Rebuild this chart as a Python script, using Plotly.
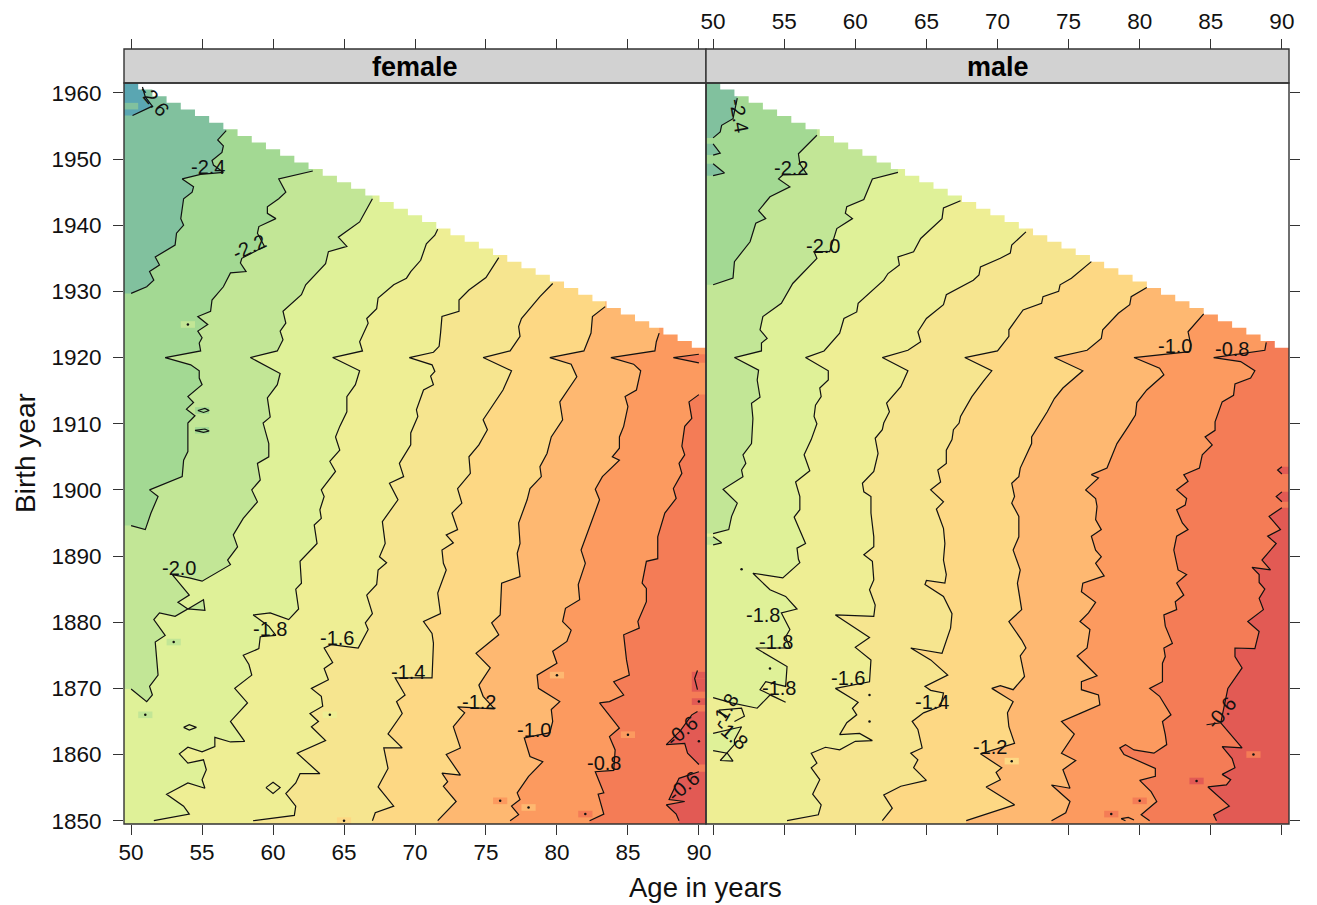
import plotly.graph_objects as go

ages_ticks = [50, 55, 60, 65, 70, 75, 80, 85, 90]
year_ticks = [1850, 1860, 1870, 1880, 1890, 1900, 1910, 1920, 1930, 1940, 1950, 1960]
panel_titles = ["female", "male"]
band_colors = ["#5AA6B2", "#81C19E", "#A3D993", "#C2E696", "#DFF198", "#EEEE94",
               "#F6E58F", "#FDD884", "#FEB871", "#FC9A5F", "#F47C56", "#E25A54"]
stair_ages = list(range(50, 91))
stair_last_birth_year = [1961, 1960, 1959, 1958, 1957, 1956, 1955, 1954, 1953, 1952, 1951, 1950,
                         1949, 1948, 1947, 1946, 1945, 1944, 1943, 1942, 1941, 1940, 1939, 1938,
                         1937, 1936, 1935, 1934, 1933, 1932, 1931, 1930, 1929, 1928, 1927, 1926,
                         1925, 1924, 1923, 1922, 1921]

# Contours: (age, birth year), top to bottom
f_m26 = [(50.8,1960.9),(51.0,1959.4),(51.5,1958),(50.1,1956.6)]
f_m24 = [(56.7,1954.3),(56.1,1952.9),(56.5,1952),(56.4,1951),(55.7,1949.8),(55.8,1949.1),(56.5,1948),(54.9,1947.7),(53.6,1947),(54.4,1945.8),(54.3,1945),(53.7,1944),(53.5,1941),(53.7,1940),(53.2,1938.8),(53.1,1937),(51.7,1935.2),(52,1934),(51.3,1933),(51.6,1931.7),(51.1,1930.7),(50,1929.7)]
f_m22 = [(62.8,1948.2),(60.4,1947),(60.9,1945),(60.4,1944),(59.6,1942.8),(59.6,1941.8),(60.2,1941),(59,1939.8),(58.9,1938.8),(59.4,1936.8),(57.8,1935),(57.7,1934.3),(58.1,1933),(57,1932.8),(56.5,1930.7),(55.7,1928.7),(55.6,1927),(54.7,1926.2),(55.4,1925),(54.7,1924),(55,1923),(54.8,1922.2),(54.9,1921),(52.4,1920),(54.2,1918.9),(54.8,1918),(54.8,1916.9),(55,1915.9),(54,1914.1),(54.4,1913.2),(53.9,1912.2),(54.5,1911.2),(54,1910.1),(54,1907.8),(54,1905.8),(53.7,1904.5),(53.6,1902),(51.3,1900),(51.9,1899),(51.4,1896.5),(51,1894),(50,1894.6)]
f_m20 = [(67,1944),(66.1,1940.5),(64.6,1938.2),(65.2,1936.8),(63.9,1936),(63.7,1934.2),(62.3,1931),(62,1929.5),(60.7,1927),(60.9,1925.2),(60.5,1924),(60.7,1922.7),(60.3,1921),(58.4,1920),(60.5,1917.6),(60.3,1915.9),(59.6,1913.9),(59.8,1911),(59.3,1910.1),(59.7,1907),(59.7,1905),(58.9,1904),(59.1,1901.5),(58.5,1900),(58.9,1898.2),(57.9,1895.7),(57.2,1893.2),(57.5,1891.4),(56.8,1889.4),(57,1888.7),(55,1886.2),(54.1,1886.7),(52.9,1887.2),(54.1,1884.1),(53.3,1883),(54,1882),(55.1,1883.4),(55.2,1881.8),(54,1882),(53.1,1880.9),(52,1881.4),(51.6,1880.4),(52.4,1878),(51.7,1877),(51.9,1872),(51.3,1870.3),(51.5,1869),(51.1,1868),(50,1869.9)]
f_m18 = [(71.6,1939.4),(71.4,1938.5),(70.8,1937.2),(70.4,1934.7),(69.7,1933),(69.4,1932),(68.5,1931),(67.4,1929),(67.3,1927.4),(66.6,1925.9),(66.7,1925.2),(66.1,1922.4),(66.3,1921),(64.2,1920),(66.1,1918),(65.8,1915.9),(65.2,1914.1),(65.2,1911.8),(64.7,1909.6),(64.4,1908),(64.7,1906),(64,1904.3),(64.4,1902.8),(63.4,1900),(63.6,1899),(63.3,1897),(63.4,1895.7),(62.9,1894.7),(63.1,1891.9),(61.9,1889.2),(62,1885.9),(61.6,1885),(61.8,1882),(61.1,1880.4),(59.8,1881.4),(58.6,1881.1),(59.7,1879.4),(60.2,1878),(59.1,1877.8),(59,1876),(57.9,1875),(58.3,1873.6),(58.5,1872),(57.3,1870),(58.2,1867.8),(57,1865),(58,1862),(57,1861.9),(55.9,1862.6),(55.9,1861.2),(55,1860.4),(54,1861.1),(53.4,1860.1),(54,1858.7),(55.1,1859.2),(55.3,1857.7),(55,1856.2),(55.2,1854.9),(54,1855.7),(52.5,1854),(53.7,1852.2),(54.1,1851),(51.6,1850)]
f_m16 = [(75.9,1935.1),(75,1932.1),(73.8,1930.2),(73.1,1928.7),(73.1,1927),(71.9,1926.2),(71.8,1923.7),(71.7,1921.7),(71.3,1920.8),(69.6,1920),(71.2,1918.9),(71.4,1917.9),(71.1,1917.2),(71.3,1915.9),(70.6,1915.1),(70.1,1912.1),(70.2,1911.1),(69.7,1908.6),(69.7,1906.8),(68.9,1904),(69.2,1902),(68.2,1901),(68.8,1898.5),(67.7,1895.2),(67.9,1891.9),(67.5,1889.9),(68,1889),(67.4,1887.9),(67.3,1885.7),(66.6,1884.1),(67,1881.3),(66.5,1879.9),(66.7,1878.9),(66,1876.1),(64.1,1876.6),(63.6,1876.1),(64.2,1873.9),(63.6,1873),(63.9,1871.3),(62.7,1870),(63.4,1868.8),(63.5,1867.3),(62.6,1866.2),(63.2,1865),(62.7,1864.2),(63.7,1862.1),(61.7,1860.2),(63.3,1857.1),(61.9,1857.1),(61.6,1855.7),(60.9,1854.1),(61.6,1852.2),(61.5,1850.8),(58.6,1850)]
f_m14 = [(79.7,1931.2),(78.8,1929.2),(77.5,1925.9),(77.3,1924.7),(77.4,1923.2),(76.7,1921),(74.8,1920),(76.8,1918),(76.2,1915.1),(75.4,1912.6),(74.8,1910.6),(75.1,1909.1),(74.5,1906.8),(73.8,1905),(73.9,1902.5),(73,1900.2),(73.3,1898),(72.6,1896.5),(73,1894),(72.2,1893.2),(72.7,1892),(71.9,1890.9),(72,1888.9),(72.2,1887.9),(71.6,1884.4),(71.8,1881.3),(70.6,1880.1),(71.2,1878.3),(71.3,1876.8),(71.2,1871.6),(68.6,1871.6),(69.3,1869),(68.7,1868),(69.1,1866.2),(68.1,1863.1),(69.1,1861),(67.8,1861),(68.1,1857.9),(67.4,1855.1),(68.5,1852.2),(67.2,1851.2),(67,1850)]
f_m12 = [(83.4,1927.7),(82.5,1926.2),(82.4,1923.7),(81.9,1921),(79.5,1920),(81,1919),(81.4,1917.1),(80.2,1913.3),(80.4,1910.6),(79.6,1908),(79.3,1905.5),(78.8,1903.5),(78.9,1902),(78.1,1900.2),(77.9,1898.5),(77.3,1895),(77.4,1891.9),(77.2,1890.4),(77.4,1886.9),(76.1,1885.9),(76,1881.1),(75.4,1879.9),(75.9,1878.1),(74.3,1875.3),(75.3,1873.1),(74.5,1870.5),(74.8,1868.8),(75.6,1866.9),(73,1867.2),(73.5,1866.3),(72.7,1864.2),(73.2,1861),(72.2,1860),(73.2,1856.9),(71.9,1857.2),(72.3,1855.9),(72,1855.2),(72.9,1852.9),(71.6,1850)]
f_m10 = [(87.2,1923.7),(87,1922.4),(86.9,1921),(83.8,1920),(85.4,1919),(85.9,1918),(85.6,1915.1),(84.8,1914.1),(85,1912.6),(84.7,1909.6),(84.4,1908),(84.4,1906.3),(83.9,1905),(84.4,1904.5),(83.2,1902),(82.7,1900.1),(83,1898.5),(81.7,1890.9),(82,1888.9),(81.5,1885.7),(81.6,1883.4),(80.6,1882.1),(80.4,1880.1),(81,1878.8),(80.7,1877.1),(79.7,1875.6),(80,1873.8),(78.6,1872),(78.7,1870),(80.2,1868),(79.6,1866.8),(79.7,1865),(79.5,1863.3),(77.7,1862.5),(78.1,1859.7),(79,1858.9),(78,1856.7),(77.2,1854.2),(77.4,1853.2),(76.8,1852.2),(77.3,1850.9),(76.7,1850)]
f_m08 = [(90,1914.4),(89.3,1913.3),(89.5,1910.8),(89,1909.6),(88.8,1906.6),(89,1905.3),(88.6,1904),(88.8,1902.5),(88.2,1900.2),(88.4,1898.7),(87.6,1896.5),(87.1,1892.9),(87.1,1889.6),(86.3,1889.2),(86,1885.9),(86.3,1885.1),(86.3,1883.1),(85.7,1880.1),(85.8,1879.1),(84.7,1878.1),(84.9,1874.3),(85.1,1872),(84,1871),(84.7,1869),(83.7,1868),(83,1867.8),(84.4,1864),(83.7,1862.7),(84.1,1860.7),(84,1857.6),(82.7,1857.4),(83.3,1854.2),(82.9,1854),(83.3,1851),(82.3,1850)]
f_m08_chevron = [(90,1920.5),(88.2,1920),(90,1919.2)]
f_m06_upper = [(89.9,1866.5),(89.5,1866),(88.7,1863.6),(87.7,1861.5),(89,1861.7),(89.2,1860.2),(90,1858.5)]
f_m06_lower = [(90,1857.4),(88.6,1856.4),(87.9,1853.2),(89,1852.9),(87.7,1852.4),(88.4,1851),(88.6,1850)]
f_loops = [[(53.7,1864.1),(54.1,1864.5),(54.6,1864.1),(54.1,1863.7),(53.7,1864.1)],
           [(59.5,1855),(60,1855.8),(60.5,1855),(60,1854.1),(59.5,1855)],
           [(54.7,1912),(55.2,1912.3),(55.5,1912),(55.1,1911.7),(54.7,1912)],
           [(54.5,1909),(55.2,1909.2),(55.5,1908.9),(55.1,1908.7),(54.5,1909)],
           [(89.9,1872.7),(89.7,1871.5),(89.9,1869.8)]]
f_cells = [(50,1958,1),(54,1925,3),(55,1912,2),(55,1909,2),(53,1877,3),(51,1866,3),(64,1866,5),(65,1850,7),(80,1872,8),(76,1853,9),(78,1852,8),(82,1851,10),(85,1863,9),(90,1862,11),(90,1868,11),(90,1870,11),(90,1871,11),(90,1872,11)]
f_dots = [(54,1925),(53,1877),(51,1866),(64,1866),(65,1850),(80,1872),(76,1853),(78,1852),(82,1851),(85,1863),(90,1862),(90,1868)]

m_m24 = [(51.7,1959.2),(51.4,1956.1),(50.6,1955.1),(50.5,1954.1),(50,1953.2)]
m_m24_a = [(50,1952.3),(50.5,1950.9),(50,1950.6)]
m_m24_b = [(50,1949.3),(50.8,1947.9),(50,1947.5)]
m_m22 = [(57.3,1953.6),(56.7,1952.3),(56,1950.8),(56.1,1949.3),(56.6,1947.7),(54.9,1947.6),(54.6,1947),(55.4,1945.8),(54,1944.3),(53.2,1942.2),(53.7,1941),(53,1940.3),(52.6,1937.5),(51.5,1934.5),(51.4,1932),(50,1931)]
m_m20 = [(63,1948),(61.2,1947),(60.6,1943.9),(59.4,1942.8),(59.3,1941.8),(59.8,1941),(58.7,1939.5),(58.2,1936),(57.1,1936),(57.3,1935),(55.6,1931.2),(54.8,1928.2),(53.5,1926.2),(53.3,1924.2),(53.8,1922.9),(53.4,1922.2),(53.4,1921),(51.5,1920),(53.2,1918.1),(53.1,1916.6),(53.3,1914),(52.7,1913.1),(52.8,1910.8),(52.7,1907),(52.1,1905.3),(52.3,1904),(52,1903),(52.1,1902),(50.7,1900.1),(51.7,1898),(51.3,1896),(51.1,1894),(50,1893.4)]
m_m20_a = [(50,1892.9),(50.6,1892),(50,1891.7)]
m_m18 = [(67.4,1943.7),(66.2,1942.6),(66.1,1941),(64.6,1938),(64.1,1936),(63,1935.2),(63.1,1934),(62.3,1932.7),(62,1931.7),(60.2,1928.2),(60.1,1926.9),(59.2,1925.9),(58.9,1923.7),(57.8,1921),(56.5,1920),(58.1,1918),(58.1,1916.6),(57.5,1915.4),(57.6,1914.1),(57.2,1912.8),(57.1,1911.1),(57.3,1910),(56.9,1907.6),(56.4,1905.3),(56.8,1902.9),(55.8,1901.2),(56.1,1899),(56.1,1897),(55.7,1895.9),(56.2,1893.4),(56.5,1891.9),(55.9,1891.2),(56,1889.5),(56.1,1889),(54.9,1886.7),(52.8,1887.4),(54,1884.9),(55.1,1883.9),(55.9,1882),(54.8,1881.4),(55.4,1878.9),(55.1,1877.8),(55.4,1876.1),(53,1876.1),(55.2,1873.3),(55.1,1870.3),(53.7,1871),(53.3,1869.8),(55.1,1867.9),(54,1869),(53.1,1867),(51.3,1867.8),(50,1868.6)]
m_m18_pocket = [(50,1863.2),(52,1864.2),(51.5,1862.2),(51.5,1861.5),(50.5,1859.1),(51.4,1859),(51,1860.2),(50,1860.6)]
m_m18_arrow = [(50.9,1865.5),(50.4,1866.7),(52.0,1867),(52.2,1865.8),(51.5,1865)]
m_m16 = [(72,1939),(71,1937),(70.9,1935.8),(70.2,1935),(68.8,1933.7),(68.7,1932.5),(68.3,1931.7),(66.4,1929.5),(66.2,1928),(65,1925.9),(64.4,1923.9),(64.6,1922.4),(63.7,1921.1),(61.9,1920),(63.7,1918),(63.2,1915.6),(62.2,1913.1),(62.4,1911.8),(62,1910.1),(61.9,1909.1),(61.4,1907.8),(61.6,1905.5),(61.3,1902.8),(60.5,1901),(60.6,1899.7),(61.1,1899),(61.1,1896.5),(61.3,1892.9),(61.3,1891.4),(60.6,1890.2),(61.2,1889.2),(61.3,1886.4),(61,1884.9),(61.4,1882.6),(61.3,1880.9),(58.6,1881.1),(61,1877.7),(60,1876.2),(61.1,1874.3),(61,1871),(58.6,1870),(60.2,1867.9),(59.8,1867),(60.1,1866),(59.4,1864.8),(58.9,1863),(60.3,1863.2),(61.2,1862.1),(60,1862),(58.9,1860.7),(57.9,1861.1),(56.9,1860.2),(57.3,1858.7),(56.9,1858),(57.5,1856.2),(57,1854),(57.6,1852.4),(57.4,1850.9),(55.2,1850)]
m_m14 = [(76.6,1934.5),(75.2,1932),(74.4,1931),(74.3,1930),(73.2,1929.2),(73.1,1928.2),(71.8,1927.2),(70.8,1924.2),(70.8,1923.2),(70,1921),(67.7,1920),(69.6,1918),(69,1916.4),(68.2,1914.1),(67.4,1911.1),(67.3,1910.1),(66.9,1909.1),(66.8,1907.6),(66.4,1906),(66.4,1904),(65.8,1903),(66,1901.2),(65.3,1900),(66.2,1898.2),(65.7,1897.1),(66.2,1894.2),(66.3,1891.9),(66.2,1889.4),(66.4,1887.2),(66.3,1885.9),(65,1886.3),(64.9,1885.7),(66.2,1883.9),(66.8,1881.3),(66.7,1879.1),(66.1,1875.3),(63.9,1876.1),(65.3,1874.3),(66.5,1872),(64.9,1870.3),(65.3,1869.7),(66.2,1869.3),(66,1867.3),(64.8,1866.3),(64,1865),(64.4,1863.8),(64.7,1861),(63.9,1860.2),(64.4,1859.2),(64.1,1858),(65,1856.1),(63.2,1855.2),(62,1853.9),(62.6,1851.9),(61.9,1850)]
m_m12 = [(80.5,1930.6),(79.4,1929.2),(79.3,1928),(78.5,1926.7),(77.4,1924.2),(77.3,1922.9),(76.3,1921.1),(74,1920),(76,1918),(74.6,1915.4),(74,1913.8),(73.5,1911.8),(72.4,1908),(72.4,1907),(71.6,1903.3),(71.5,1902),(71,1901),(71.2,1899),(71,1898),(71.5,1896),(71.5,1892.9),(71.1,1890.9),(71.6,1887.9),(71.4,1885.9),(71.7,1881.9),(70.8,1880.1),(71.7,1877.3),(72,1876.1),(71.6,1874.9),(71.9,1871.8),(71.1,1869.8),(70.2,1870.4),(69.6,1870),(71.1,1868),(70.7,1866.3),(70.8,1864.2),(71.2,1861.7),(68.8,1860.1),(70.3,1858),(69.9,1857.3),(70.2,1856.2),(69.2,1855.1),(71.2,1852.4),(67.8,1850)]
m_m10 = [(84.5,1926.6),(83.4,1923.9),(83.6,1921.9),(83.5,1920.9),(79.6,1920),(81.4,1918.4),(81.7,1917.4),(80.5,1915.1),(79.8,1913.2),(79.7,1911.3),(79.2,1909.6),(78.4,1907),(77.7,1903.3),(76.6,1902.3),(77.1,1901.8),(76.2,1900),(76.9,1898.7),(77,1897.5),(76.9,1895.5),(77.3,1894),(76.6,1893),(76.9,1890.9),(77.3,1889.9),(76.9,1888.9),(77.5,1887),(76,1885.9),(75.9,1884.6),(76.9,1883),(76.4,1881.4),(75.8,1880.1),(76.5,1878.9),(76.3,1876.1),(75.6,1874.9),(77,1871.9),(75.9,1871),(75.9,1869.8),(77.1,1869),(77.2,1867.5),(75.9,1866.3),(74.5,1865),(75.4,1863.1),(74.5,1860.2),(75.5,1859.1),(74.6,1857.7),(75.1,1854.9),(73.8,1855.4),(75.1,1852.9),(74.8,1851.2),(73.8,1850)]
m_m08 = [(88.9,1922.3),(88.8,1921.1),(85.2,1920),(87.1,1919.4),(88.1,1918),(87.8,1916.9),(86.7,1916),(86.6,1914.3),(85.8,1913.3),(85.3,1910.3),(85.3,1909),(84.6,1908),(85.1,1906.8),(84.4,1905.3),(84.2,1903.3),(83.1,1902.3),(83.4,1901.3),(82.6,1900),(83.3,1898.7),(83.2,1897.7),(82.6,1897),(83,1895),(83.4,1894),(82.6,1893),(82.4,1890.9),(82.7,1887.9),(83.3,1887.2),(82.6,1885.9),(83.1,1884.1),(82.5,1883.1),(82.6,1881.9),(81.7,1881.1),(81.8,1879.4),(82.3,1876.8),(81.7,1876.1),(81.8,1874.8),(81.6,1873.8),(81.6,1871),(80.7,1870),(81.4,1868.8),(82.2,1866),(81.6,1865),(81.8,1863),(81.9,1861.5),(81,1860.2),(79.6,1860.7),(79,1861.5),(78.6,1861),(78.9,1860),(81.1,1857.9),(81.1,1856.7),(80,1856.1),(80.8,1854.4),(81.2,1852.9),(80.1,1850.9),(80.7,1850)]
m_m06 = [(90,1897.3),(89.1,1896),(89.9,1894),(89,1893),(89.6,1891.9),(88.6,1889.4),(88.8,1888.9),(89.2,1887.9),(87.9,1888.3),(88.4,1887.2),(88.4,1886),(88.8,1885),(88.4,1883.6),(88.7,1881.9),(87.6,1880.1),(88.4,1878.6),(88.1,1876),(86.7,1876.1),(86.7,1874.8),(87.2,1873.1),(86.2,1870),(85.7,1864.8),(84.7,1864.5),(85.7,1864.8),(87.2,1861),(85.8,1861.2),(86.5,1859.4),(86.7,1858),(85.8,1857),(86.4,1856.2),(86.1,1855.4),(84.8,1855.1),(86.3,1852.2),(85.2,1850.9),(85.4,1850)]
m_m06_a = [(90,1903.5),(89.7,1903),(90,1902.4)]
m_m06_b = [(90,1899.7),(89.6,1899),(90,1898.2)]
m_loops = [[(79,1850),(78.7,1850.3),(79.2,1850.5),(79.6,1850.1)]]
m_cells = [(71,1859,7),(80,1853,10),(78,1851,10),(84,1856,11),(88,1860,10)]
m_dots = [(52,1888),(54,1873),(61,1869),(61,1865),(71,1859),(80,1853),(78,1851),(84,1856),(88,1860)]

f_labels = [("-2.6",51.6,1958.9,50),("-2.4",55.4,1948.8,0),("-2.2",58.3,1936.7,-25),("-2.0",53.4,1888.2,0),
            ("-1.8",59.8,1878.9,0),("-1.6",64.5,1877.6,0),("-1.4",69.5,1872.5,0),("-1.2",74.5,1867.9,0),
            ("-1.0",78.4,1863.7,0),("-0.8",83.3,1858.7,0),("-0.6",88.8,1863.5,-40),("-0.6",88.9,1855.3,-40)]
m_labels = [("-2.4",51.8,1956.6,80),("-2.2",55.5,1948.6,0),("-2.0",57.7,1936.9,0),("-1.8",53.5,1881.1,0),
            ("-1.8",54.4,1877,0),("-1.8",54.6,1870.1,0),("-1.8",50.8,1866.8,-60),("-1.8",51.3,1863.1,40),
            ("-1.6",59.5,1871.6,0),("-1.4",65.4,1867.9,0),("-1.2",69.5,1861.2,0),("-1.0",82.5,1921.8,0),
            ("-0.8",86.5,1921.3,0),("-0.6",85.7,1866.3,-50)]

# Layout in pixels of the 1317x905 page
W, H = 1317, 905
FONT = "Liberation Sans"
XL, XR = 49.5, 90.5
YB, YT = 1849.5, 1961.5
fx = lambda p: p / W
fy = lambda p: 1 - p / H
PANELS = [(124, 706), (706, 1289)]
PT, PB, ST = 83, 824, 49
INK = "#333333"

fig = go.Figure()


def polygon(xs, ys, color, ax):
    fig.add_trace(go.Scatter(x=xs, y=ys, mode="lines", fill="toself", fillcolor=color,
                             line=dict(width=0, color=color), hoverinfo="skip",
                             showlegend=False, xaxis=ax[0], yaxis=ax[1]))


def left_of(pts, band, ax):
    xs = [pts[0][0]] + [p[0] for p in pts]
    ys = [YT] + [p[1] for p in pts]
    if pts[-1][1] <= 1851:
        xs += [pts[-1][0], XL]
        ys += [YB, YB]
    else:
        xs += [XL]
        ys += [pts[-1][1]]
    xs += [XL]
    ys += [YT]
    polygon(xs, ys, band_colors[band], ax)


def right_of(pts, band, ax):
    xs = [p[0] for p in pts]
    ys = [p[1] for p in pts]
    if pts[-1][1] <= 1851:
        xs += [pts[-1][0], XR]
        ys += [YB, YB]
    else:
        xs += [XR]
        ys += [pts[-1][1]]
    xs += [XR, pts[0][0]]
    ys += [pts[0][1], pts[0][1]]
    polygon(xs, ys, band_colors[band], ax)


def closed(pts, band, ax):
    xs = [XL] + [p[0] for p in pts] + [XL]
    ys = [pts[0][1]] + [p[1] for p in pts] + [pts[-1][1]]
    polygon(xs, ys, band_colors[band], ax)


def cells(items, ax):
    for a, b, band in items:
        polygon([a - .5, a + .5, a + .5, a - .5, a - .5], [b - .5, b - .5, b + .5, b + .5, b - .5], band_colors[band], ax)


def line(pts, ax):
    fig.add_trace(go.Scatter(x=[p[0] for p in pts], y=[p[1] for p in pts], mode="lines",
                             line=dict(color="#111111", width=1.2), hoverinfo="skip",
                             showlegend=False, xaxis=ax[0], yaxis=ax[1]))


def mask(ax):
    xs, ys = [XL], [YT]
    for a, b in zip(stair_ages, stair_last_birth_year):
        left = XL if a == stair_ages[0] else a - .5
        xs += [left, a + .5]
        ys += [b + .5, b + .5]
    xs += [XR, XR, XL]
    ys += [stair_last_birth_year[-1] + .5, YT, YT]
    polygon(xs, ys, "#FFFFFF", ax)


def dots(pts, ax):
    fig.add_trace(go.Scatter(x=[p[0] for p in pts], y=[p[1] for p in pts], mode="markers",
                             marker=dict(size=2.5, color="#111111"), hoverinfo="skip",
                             showlegend=False, xaxis=ax[0], yaxis=ax[1]))


# Female panel
A = ("x", "y")
polygon([XL, XR, XR, XL, XL], [YB, YB, YT, YT, YB], band_colors[9], A)
right_of(f_m08, 10, A)
right_of(f_m08_chevron, 10, A)
right_of(f_m06_upper, 11, A)
right_of(f_m06_lower, 11, A)
for pts, band in [(f_m10, 8), (f_m12, 7), (f_m14, 6), (f_m16, 5), (f_m18, 4), (f_m20, 3), (f_m22, 2), (f_m24, 1), (f_m26, 0)]:
    left_of(pts, band, A)
cells(f_cells, A)
mask(A)
for pts in [f_m26, f_m24, f_m22, f_m20, f_m18, f_m16, f_m14, f_m12, f_m10, f_m08, f_m08_chevron, f_m06_upper, f_m06_lower] + f_loops:
    line(pts, A)
dots(f_dots, A)

# Male panel
B = ("x2", "y2")
polygon([XL, XR, XR, XL, XL], [YB, YB, YT, YT, YB], band_colors[10], B)
right_of(m_m06, 11, B)
right_of(m_m06_a, 11, B)
right_of(m_m06_b, 11, B)
for pts, band in [(m_m08, 9), (m_m10, 8), (m_m12, 7), (m_m14, 6), (m_m16, 5), (m_m18, 4)]:
    left_of(pts, band, B)
closed(m_m18_pocket, 4, B)
for pts, band in [(m_m20, 3), (m_m22, 2), (m_m24, 1)]:
    left_of(pts, band, B)
closed(m_m20_a, 3, B)
closed(m_m24_a, 1, B)
closed(m_m24_b, 1, B)
cells(m_cells, B)
mask(B)
for pts in [m_m24, m_m24_a, m_m24_b, m_m22, m_m20, m_m20_a, m_m18, m_m18_pocket, m_m18_arrow, m_m16, m_m14, m_m12, m_m10, m_m08, m_m06, m_m06_a, m_m06_b] + m_loops:
    line(pts, B)
dots(m_dots, B)

# Empty traces so the outer tick axes are drawn
for xa, ya in [("x3", "y"), ("x4", "y2")]:
    fig.add_trace(go.Scatter(x=[XL], y=[YB], mode="markers", marker=dict(opacity=0), hoverinfo="skip",
                             showlegend=False, xaxis=xa, yaxis=ya))

anns = []
for labels, xr, yr in [(f_labels, "x", "y"), (m_labels, "x2", "y2")]:
    for text, a, b, ang in labels:
        anns.append(dict(text=text, x=a, y=b, xref=xr, yref=yr, showarrow=False, textangle=ang,
                         xanchor="center", yanchor="middle",
                         font=dict(family=FONT, size=20, color="#111111")))
for title, (l, r) in zip(panel_titles, PANELS):
    anns.append(dict(text="<b>%s</b>" % title, x=fx((l + r) / 2), y=fy(67), xref="paper", yref="paper",
                     showarrow=False, xanchor="center", yanchor="middle",
                     font=dict(family=FONT, size=27, color="#000000")))
anns.append(dict(text="Birth year", x=fx(25), y=fy(453), xref="paper", yref="paper", showarrow=False,
                 textangle=-90, xanchor="center", yanchor="middle", font=dict(family=FONT, size=28, color="#111111")))
anns.append(dict(text="Age in years", x=fx(705), y=fy(887), xref="paper", yref="paper", showarrow=False,
                 xanchor="center", yanchor="middle", font=dict(family=FONT, size=27.5, color="#111111")))

shapes = []
for l, r in PANELS:
    shapes.append(dict(type="rect", xref="paper", yref="paper", x0=fx(l), x1=fx(r), y0=fy(PT), y1=fy(ST),
                       fillcolor="#D2D2D2", line=dict(color=INK, width=1.4), layer="above"))
    shapes.append(dict(type="rect", xref="paper", yref="paper", x0=fx(l), x1=fx(r), y0=fy(PB), y1=fy(PT),
                       fillcolor="rgba(0,0,0,0)", line=dict(color=INK, width=1.4), layer="above"))

tick_style = dict(tickmode="array", ticks="outside", ticklen=10, tickwidth=1, tickcolor=INK, showgrid=False,
                  zeroline=False, showline=False, fixedrange=True, automargin=False,
                  tickfont=dict(family=FONT, size=22.5, color="#111111"))
xstyle = dict(tick_style, tickvals=ages_ticks, ticktext=[str(v) for v in ages_ticks], range=[XL, XR])
ystyle = dict(tick_style, tickvals=year_ticks, ticktext=[str(v) for v in year_ticks], range=[YB, YT])
dom_f = [fx(PANELS[0][0]), fx(PANELS[0][1])]
dom_m = [fx(PANELS[1][0]), fx(PANELS[1][1])]
dom_y = [fy(PB), fy(PT)]

fig.update_layout(
    width=W, height=H, autosize=False, margin=dict(l=0, r=0, t=0, b=0, pad=0, autoexpand=False),
    paper_bgcolor="#FFFFFF", plot_bgcolor="#FFFFFF", showlegend=False,
    font=dict(family=FONT), annotations=anns, shapes=shapes,
    xaxis=dict(xstyle, domain=dom_f, anchor="y", side="bottom", ticklabelstandoff=-2),
    xaxis2=dict(xstyle, domain=dom_m, anchor="y2", side="bottom", showticklabels=False),
    xaxis3=dict(xstyle, domain=dom_f, anchor="free", position=fy(ST), side="top", overlaying="x", showticklabels=False),
    xaxis4=dict(xstyle, domain=dom_m, anchor="free", position=fy(ST), side="top", overlaying="x2", ticklabelstandoff=1),
    yaxis=dict(ystyle, domain=dom_y, anchor="x", side="left", ticklabelstandoff=7),
    yaxis2=dict(ystyle, domain=dom_y, anchor="x2", side="right", showticklabels=False),
)
fig.write_html("out.html", config=dict(displayModeBar=False),
               post_script="document.body.style.margin='0';document.documentElement.style.overflow='hidden';")
